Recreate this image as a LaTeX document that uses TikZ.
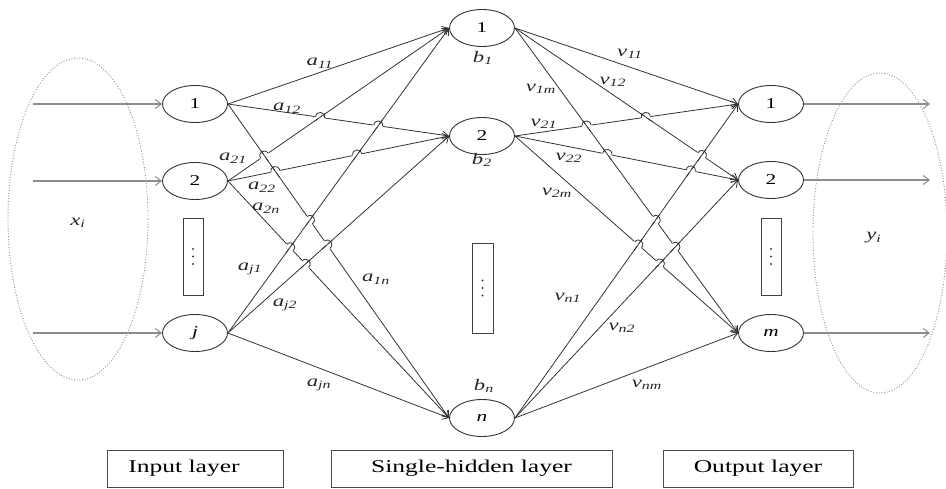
\documentclass[tikz,border=0pt]{standalone}
\usepackage{fontspec}
\usepackage{graphicx}
\setmainfont{Liberation Serif}
\usetikzlibrary{arrows.meta,shapes.geometric,calc}

% wide, slightly stretched lettering
\newcommand\sx[1]{\scalebox{1.42}[1]{#1}}
\newcommand\wt[2]{\sx{\textit{#1}\textsubscript{\textit{#2}}}}

\tikzset{
  neuron/.style={ellipse, draw=black!80, line width=0.9pt, minimum width=65pt,
    minimum height=37pt, inner sep=0pt, font=\fontsize{15}{15}\selectfont},
  dotsbox/.style={rectangle, draw=black!75, line width=0.9pt, minimum width=20pt,
    minimum height=77pt, inner sep=0pt},
  layerbox/.style={rectangle, draw=black!70, line width=0.9pt, minimum height=37pt,
    inner sep=0pt, font=\fontsize{18}{18}\selectfont},
  wlabel/.style={inner sep=0pt, font=\fontsize{16}{16}\selectfont, text=black!85},
  wire/.style={draw=black!80, line width=0.8pt},
  conn/.style={wire, -{Straight Barb[length=6pt,width=8pt,line width=0.8pt]}},
  feed/.style={draw=black!45, line width=1.1pt,
    -{Straight Barb[length=6pt,width=9pt,line width=1pt]}},
  cloud/.style={draw=black!45, line width=0.9pt, dash pattern=on 0.9pt off 1.8pt},
}

% line jump: the line #1--#2 hops over the line #3--#4 where they cross
\newcommand\linehop[4]{%
  \coordinate (X) at (intersection of #1--#2 and #3--#4);
  \draw[white, line width=3.2pt] ($(X)!5pt!(#1)$) -- ($(X)!5pt!(#2)$);
  \draw[wire] ($(X)!7pt!(#3)$) -- ($(X)!7pt!(#4)$);
  \draw[wire] ($(X)!4.5pt!(#1)$) .. controls ($($(X)!4.5pt!(#1)$)!6.5pt!90:(X)$)
      and ($($(X)!4.5pt!(#2)$)!6.5pt!-90:(X)$) .. ($(X)!4.5pt!(#2)$);
}
\newcommand\dotcol[1]{%
  \foreach \d in {-7.5,0,7.5}
    \fill[black!75] ($(#1)+(0,\d)$) circle[radius=1.15pt];
}

\begin{document}
\begin{tikzpicture}[x=1pt, y=-1pt]
\useasboundingbox (0,0) rectangle (946,489);

% dotted groups of inputs and outputs
\draw[cloud] (78,219) ellipse [x radius=70, y radius=161];
\draw[cloud] (880,233) ellipse [x radius=67, y radius=160];
\node[wlabel] (xi) at (78,223) {\wt{x}{i}};
\node[wlabel] (yi) at (874,238) {\wt{y}{i}};

% input layer
\node[neuron] (i1) at (195,104) {\sx{1}};
\node[neuron] (i2) at (195,181) {\sx{2}};
\node[neuron] (ij) at (195,333) {\sx{\textit{j}}};
\node[dotsbox] (id) at (193,256.5) {};
\dotcol{id}

% hidden layer
\node[neuron] (h1) at (482,28) {\sx{1}};
\node[neuron] (h2) at (482,136) {\sx{2}};
\node[neuron] (hn) at (482,418) {\sx{\textit{n}}};
\node[dotsbox, minimum height=90pt, minimum width=21pt] (hd) at (482.5,288) {};
\dotcol{hd}

% output layer
\node[neuron] (o1) at (771,104) {\sx{1}};
\node[neuron] (o2) at (771,180) {\sx{2}};
\node[neuron] (om) at (771,333) {\sx{\textit{m}}};
\node[dotsbox] (od) at (771,256.5) {};
\dotcol{od}

% external inputs and outputs
\coordinate (s1) at (33,104);
\coordinate (s2) at (33,181);
\coordinate (sj) at (33,333);
\coordinate (e1) at (930,104);
\coordinate (e2) at (930,180);
\coordinate (em) at (930,333);
\draw[feed] (s1) -- (i1.west);
\draw[feed] (s2) -- (i2.west);
\draw[feed] (sj) -- (ij.west);
\draw[feed] (o1.east) -- (e1);
\draw[feed] (o2.east) -- (e2);
\draw[feed] (om.east) -- (em);

% input -> hidden weights
\foreach \a in {i1,i2,ij}
  \foreach \b in {h1,h2,hn}
    \draw[conn] (\a.east) -- (\b.west);

% hidden -> output weights
\foreach \a in {h1,h2,hn}
  \foreach \b in {o1,o2,om}
    \draw[conn] (\a.east) -- (\b.west);

% jumps where weights cross
\linehop{i1.east}{h2.west}{i2.east}{h1.west}
\linehop{i1.east}{h2.west}{ij.east}{h1.west}
\linehop{i2.east}{h2.west}{i1.east}{hn.west}
\linehop{i2.east}{h2.west}{ij.east}{h1.west}
\linehop{i2.east}{h1.west}{i1.east}{hn.west}
\linehop{i1.east}{hn.west}{ij.east}{h1.west}
\linehop{i1.east}{hn.west}{ij.east}{h2.west}
\linehop{i2.east}{hn.west}{ij.east}{h1.west}
\linehop{i2.east}{hn.west}{ij.east}{h2.west}

\linehop{h2.east}{o1.west}{h1.east}{om.west}
\linehop{h2.east}{o1.west}{h1.east}{o2.west}
\linehop{h2.east}{o2.west}{h1.east}{om.west}
\linehop{h2.east}{o2.west}{hn.east}{o1.west}
\linehop{h1.east}{o2.west}{hn.east}{o1.west}
\linehop{h1.east}{om.west}{hn.east}{o1.west}
\linehop{h1.east}{om.west}{hn.east}{o2.west}
\linehop{h2.east}{om.west}{hn.east}{o1.west}
\linehop{h2.east}{om.west}{hn.east}{o2.west}

% weight labels
\node[wlabel] (la11) at (320,63) {\wt{a}{11}};
\node[wlabel] (la12) at (287,108) {\wt{a}{12}};
\node[wlabel] (la21) at (233,158) {\wt{a}{21}};
\node[wlabel] (la22) at (262,187) {\wt{a}{22}};
\node[wlabel] (la2n) at (266,208) {\wt{a}{2n}};
\node[wlabel] (laj1) at (250,269) {\wt{a}{j1}};
\node[wlabel] (laj2) at (285,305) {\wt{a}{j2}};
\node[wlabel] (la1n) at (376,279) {\wt{a}{1n}};
\node[wlabel] (lajn) at (319,385) {\wt{a}{jn}};

\node[wlabel] (lb1) at (483,58) {\wt{b}{1}};
\node[wlabel] (lb2) at (482,160) {\wt{b}{2}};
\node[wlabel] (lbn) at (484,386) {\wt{b}{n}};

\node[wlabel] (lv11) at (630,54) {\wt{v}{11}};
\node[wlabel] (lv12) at (613,82) {\wt{v}{12}};
\node[wlabel] (lv1m) at (541,89) {\wt{v}{1m}};
\node[wlabel] (lv21) at (544,124) {\wt{v}{21}};
\node[wlabel] (lv22) at (569,158) {\wt{v}{22}};
\node[wlabel] (lv2m) at (557,193) {\wt{v}{2m}};
\node[wlabel] (lvn1) at (568,298) {\wt{v}{n1}};
\node[wlabel] (lvn2) at (622,328) {\wt{v}{n2}};
\node[wlabel] (lvnm) at (647,385) {\wt{v}{nm}};

% layer captions
\node[layerbox, minimum width=176pt] (bin) at (195,468.5) {};
\node[font=\fontsize{18}{18}\selectfont, inner sep=0pt] (tin) at (184,468) {\sx{Input layer}};
\node[layerbox, minimum width=281pt] (bhid) at (471.5,468.5) {\sx{Single-hidden layer}};
\node[layerbox, minimum width=190pt] (bout) at (758,468.5) {\sx{Output layer}};
\end{tikzpicture}
\end{document}
